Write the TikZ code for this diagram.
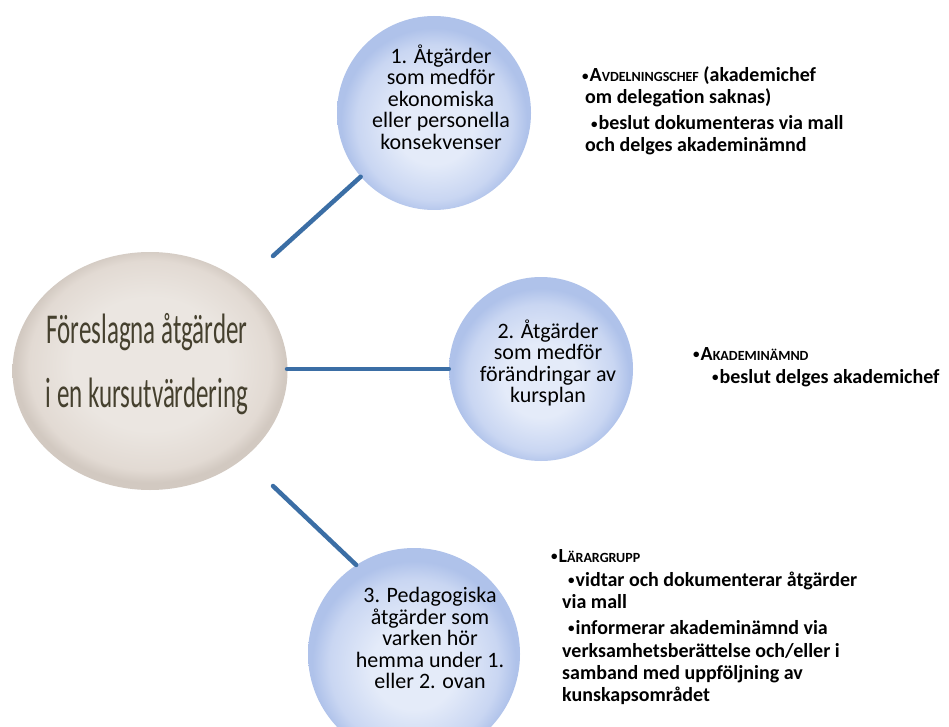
\documentclass[tikz,border=0pt]{standalone}
\usepackage{fontspec}
\setmainfont{Carlito}
\usetikzlibrary{shapes.geometric}
\definecolor{connblue}{HTML}{3B6EA5}
\definecolor{bcin}{HTML}{E4EBF9}
\definecolor{bcmid}{HTML}{C9D6F2}
\definecolor{bcout}{HTML}{AFC2EA}
\definecolor{ecin}{HTML}{EBE6E1}
\definecolor{ecmid}{HTML}{E2DAD3}
\definecolor{ecout}{HTML}{D2C9C1}
\definecolor{ctext}{HTML}{45402E}
\pgfdeclareradialshading{bluecirc}{\pgfpoint{0bp}{-4bp}}{color(0bp)=(bcin); color(10bp)=(bcin); color(20bp)=(bcmid); color(24bp)=(bcout); color(25bp)=(bcout); color(50bp)=(bcout)}
\pgfdeclareradialshading{beigeell}{\pgfpoint{0bp}{2bp}}{color(0bp)=(ecin); color(14bp)=(ecin); color(22bp)=(ecmid); color(24.5bp)=(ecout); color(25bp)=(ecout); color(50bp)=(ecout)}
\newcommand{\fsc}[2]{#1{\fontsize{14}{22}\selectfont #2}}
\newcommand{\bul}{{\fontsize{13}{22}\selectfont\raisebox{1.5pt}{•}}\kern1pt}
\tikzset{
  bubble/.style={circle, shading=bluecirc, inner sep=0pt},
  hub/.style={ellipse, shading=beigeell, inner sep=0pt},
  conn/.style={draw=connblue, line width=4.5pt, line cap=round},
  ctxt/.style={align=center, inner sep=0pt, font=\fontsize{22}{21.5}\selectfont},
  btxt/.style={anchor=base west, inner sep=0pt, font=\fontsize{20}{22}\selectfont\bfseries},
  htxt/.style={anchor=base, inner sep=0pt, text=ctext}
}
\begin{document}
\begin{tikzpicture}[x=1pt,y=-1pt]
\useasboundingbox (0,0) rectangle (949,727);
\clip (0,0) rectangle (949,727);
\fill[white] (0,0) rectangle (949,727);

% hub
\node[hub, minimum width=275pt, minimum height=238pt] (e) at (150,371) {};
\node[htxt] (h1) at (147,343) {\scalebox{1}[1.7]{\fontsize{25}{25}\selectfont Föreslagna åtgärder}};
\node[htxt] (h2) at (147,407) {\scalebox{1}[1.7]{\fontsize{25}{25}\selectfont i en kursutvärdering}};

% bubbles
\node[bubble, minimum size=194pt] (c1) at (434,113) {};
\node[bubble, minimum size=184pt] (c2) at (541,369) {};
\node[bubble, minimum size=212pt] (c3) at (414,654) {};

\node[ctxt] (t1) at (441,97) {1. Åtgärder\\som medför\\ekonomiska\\eller personella\\konsekvenser};
\node[ctxt] (t2) at (548,363) {2. Åtgärder\\som medför\\förändringar av\\kursplan};
\node[ctxt] (t3) at (430,638) {3. Pedagogiska\\åtgärder som\\varken hör\\hemma under 1.\\eller 2. ovan};

% connectors
\coordinate (e1) at (273,256);
\coordinate (e2) at (287,369);
\coordinate (e3) at (273,486);
\draw[conn] (e1) -- (c1.221);
\draw[conn] (e2) -- (c2.west);
\draw[conn] (e3) -- (c3.123);

% text block 1
\node[btxt] (a1) at (582,82) {\bul\fsc{A}{VDELNINGSCHEF} (akademichef};
\node[btxt] (a2) at (585,104) {om delegation saknas)};
\node[btxt] (a3) at (591,130) {\bul beslut dokumenteras via mall};
\node[btxt] (a4) at (585,152) {och delges akademinämnd};

% text block 2
\node[btxt] (b1) at (693,360) {\bul\fsc{A}{KADEMINÄMND}};
\node[btxt] (b2) at (712,383) {\bul beslut delges akademichef};

% text block 3
\node[btxt] (d1) at (551,562) {\bul\fsc{L}{ÄRARGRUPP}};
\node[btxt] (d2) at (568,586) {\bul vidtar och dokumenterar åtgärder};
\node[btxt] (d3) at (562,608) {via mall};
\node[btxt] (d4) at (568,634) {\bul informerar akademinämnd via};
\node[btxt] (d5) at (562,657) {verksamhetsberättelse och/eller i};
\node[btxt] (d6) at (562,679) {samband med uppföljning av};
\node[btxt] (d7) at (562,701) {kunskapsområdet};
\end{tikzpicture}
\end{document}
